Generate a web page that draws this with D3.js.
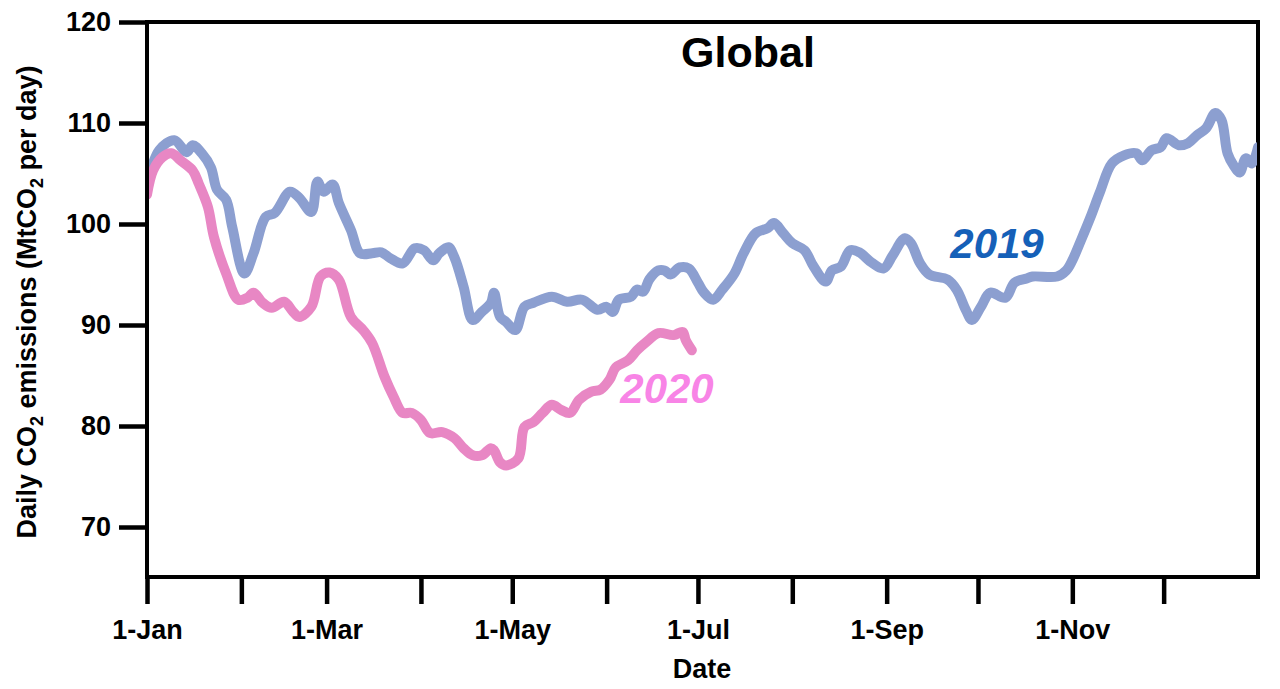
<!DOCTYPE html>
<html>
<head>
<meta charset="utf-8">
<script src="https://cdn.jsdelivr.net/npm/d3@7"></script>
<style>
  body { margin: 0; background: #fff; }
  text { font-family: "Liberation Sans", Arial, sans-serif; font-weight: bold; }
</style>
</head>
<body>
<svg id="chart" width="1280" height="689"></svg>
<script>
// ---- data (day of year, MtCO2 per day) ----
var days2019 = [0,4,9,13,15,18,21,23,26,28,32,35,39,42,47,50,54,56,58,61,63,67,70,74,77,80,84,88,91,94,96,99,101,104,107,110,113,114,116,118,121,124,127,133,138,143,148,151,153,155,159,161,163,165,168,170,172,175,178,181,183,186,189,193,196,200,204,206,209,212,216,219,223,225,228,231,234,238,242,245,249,251,254,257,263,266,269,271,274,277,282,285,289,291,299,302,304,307,310,313,317,321,325,327,330,333,335,339,342,345,348,351,353,355,357,359,361,363,365]
var co2_2019 = [103.8,107.3,108.3,107.1,107.8,107.0,105.6,103.4,102.4,99.7,95.1,97.1,100.7,101.1,103.2,102.6,101.2,104.2,103.2,103.9,102.1,99.4,97.1,97.1,97.2,96.6,96.1,97.6,97.4,96.4,97.1,97.7,96.7,93.8,90.5,91.3,92.2,93.2,90.8,90.3,89.5,91.8,92.2,92.8,92.3,92.5,91.5,91.8,91.3,92.5,92.8,93.5,93.3,94.5,95.4,95.4,95.0,95.7,95.6,94.2,93.2,92.5,93.5,95.1,97.1,99.1,99.6,100.1,99.1,98.1,97.4,95.8,94.3,95.4,95.8,97.4,97.2,96.2,95.6,96.9,98.6,98.1,96.1,95.0,94.5,93.5,91.5,90.5,91.8,93.2,92.7,94.2,94.6,94.8,94.8,95.4,96.4,98.5,100.7,103.1,106.0,106.8,107.0,106.3,107.3,107.6,108.5,107.8,108.0,108.8,109.5,111.0,110.3,107.0,105.8,105.1,106.5,106.0,107.6]

var days2020 = [0,2,5,8,11,15,17,20,22,26,30,33,35,38,41,45,48,50,54,57,60,63,67,71,74,78,81,84,87,90,93,97,101,104,107,110,113,114,116,118,122,124,127,130,133,136,139,142,146,149,152,154,158,161,164,168,173,176,177,179]
var co2_2020 = [102.9,105.3,106.6,107.0,106.3,105.3,104.0,101.7,98.7,95.1,92.5,92.7,93.2,92.2,91.7,92.3,91.3,90.8,91.8,94.8,95.2,94.5,90.8,89.5,88.2,84.9,82.9,81.3,81.3,80.6,79.3,79.4,78.8,77.8,77.1,77.1,77.8,77.6,76.4,76.1,76.8,79.9,80.4,81.3,82.1,81.6,81.3,82.6,83.4,83.6,84.6,85.8,86.5,87.5,88.3,89.2,89.0,89.3,88.5,87.5]

var yTicks = [70,80,90,100,110,120]
var monthLabels = ["1-Jan","","1-Mar","","1-May","","1-Jul","","1-Sep","","1-Nov",""]

var plotLeft = 147, plotRight = 1258, plotTop = 22, plotBottom = 577

var svg = d3.select("#chart")

var start = new Date(2019,0,1)
var xScale = d3.scaleTime()
    .domain([start, new Date(2020,0,1)])
    .range([plotLeft, plotRight])

var yScale = d3.scaleLinear()
    .domain([65.05, 120])
    .range([plotBottom, plotTop])

function dayDate(d) { return d3.timeDay.offset(start, d) }

// frame
svg.append("rect")
  .attr("x", plotLeft).attr("y", plotTop)
  .attr("width", plotRight-plotLeft).attr("height", plotBottom-plotTop)
  .attr("fill", "none").attr("stroke", "#000").attr("stroke-width", 4)

// y axis
var yAxis = svg.append("g")
  .attr("transform", "translate(" + plotLeft + ",0)")
  .call(d3.axisLeft(yScale).tickValues(yTicks).tickSize(28).tickPadding(8))
yAxis.select(".domain").remove()
yAxis.selectAll(".tick line").attr("stroke", "#000").attr("stroke-width", 4.5)
yAxis.selectAll(".tick text")
  .attr("font-size", "27px").attr("fill", "#000")
  .attr("font-family", "Liberation Sans, Arial, sans-serif").attr("font-weight", "bold")

// x axis
var monthTicks = d3.timeMonth.range(start, new Date(2020,0,1))
var xAxis = svg.append("g")
  .attr("transform", "translate(0," + plotBottom + ")")
  .call(d3.axisBottom(xScale).tickValues(monthTicks).tickSize(27).tickPadding(16)
    .tickFormat(function(d, i) { return monthLabels[i] }))
xAxis.select(".domain").remove()
xAxis.selectAll(".tick line").attr("stroke", "#000").attr("stroke-width", 4.5)
xAxis.selectAll(".tick text")
  .attr("font-size", "27px").attr("fill", "#000")
  .attr("font-family", "Liberation Sans, Arial, sans-serif").attr("font-weight", "bold")

// lines
var line = d3.line()
  .x(function(d) { return xScale(dayDate(d[0])) })
  .y(function(d) { return yScale(d[1]) })
  .curve(d3.curveCatmullRom.alpha(0.5))

var clip = svg.append("clipPath").attr("id", "plotClip")
clip.append("rect").attr("x", plotLeft+2).attr("y", plotTop).attr("width", plotRight-plotLeft-3).attr("height", plotBottom-plotTop)

svg.append("path")
  .datum(d3.zip(days2019, co2_2019))
  .attr("clip-path", "url(#plotClip)")
  .attr("fill", "none")
  .attr("stroke", "#8c9fd0")
  .attr("stroke-width", 10)
  .attr("stroke-linejoin", "round")
  .attr("stroke-linecap", "round")
  .attr("d", line)

svg.append("path")
  .datum(d3.zip(days2020, co2_2020))
  .attr("clip-path", "url(#plotClip)")
  .attr("fill", "none")
  .attr("stroke", "#e887c4")
  .attr("stroke-width", 10)
  .attr("stroke-linejoin", "round")
  .attr("stroke-linecap", "round")
  .attr("d", line)

// labels
svg.append("text")
  .attr("x", 748).attr("y", 67)
  .attr("text-anchor", "middle")
  .attr("font-size", "43px").attr("fill", "#000")
  .text("Global")

svg.append("text")
  .attr("x", 997).attr("y", 258)
  .attr("text-anchor", "middle")
  .attr("font-size", "42px").attr("font-style", "italic")
  .attr("fill", "#1560b8")
  .text("2019")

svg.append("text")
  .attr("x", 667).attr("y", 403)
  .attr("text-anchor", "middle")
  .attr("font-size", "42px").attr("font-style", "italic")
  .attr("fill", "#f884e6")
  .text("2020")

svg.append("text")
  .attr("x", 702).attr("y", 678)
  .attr("text-anchor", "middle")
  .attr("font-size", "27px").attr("fill", "#000")
  .text("Date")

var yLabel = svg.append("text")
  .attr("transform", "translate(36,302) rotate(-90)")
  .attr("text-anchor", "middle")
  .attr("font-size", "27px").attr("fill", "#000")
yLabel.append("tspan").text("Daily CO")
yLabel.append("tspan").attr("font-size", "18px").attr("dy", 7).text("2")
yLabel.append("tspan").attr("dy", -7).text(" emissions (MtCO")
yLabel.append("tspan").attr("font-size", "18px").attr("dy", 7).text("2")
yLabel.append("tspan").attr("dy", -7).text(" per day)")
</script>
</body>
</html>
